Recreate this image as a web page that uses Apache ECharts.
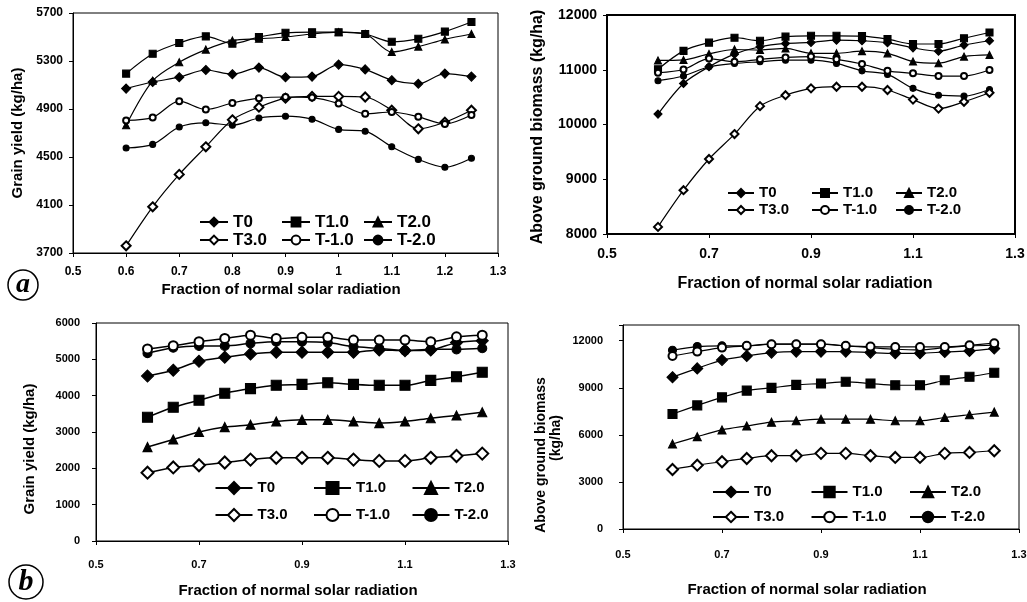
<!DOCTYPE html>
<html><head><meta charset="utf-8">
<script src="https://cdn.jsdelivr.net/npm/echarts@6/dist/echarts.min.js"></script>
<style>html,body{margin:0;padding:0;background:#fff}#c{width:1027px;height:602px}</style>
</head><body><div id="c"></div>
<script>
// ---- data ----
const xValues = [0.6,0.65,0.7,0.75,0.8,0.85,0.9,0.95,1.0,1.05,1.1,1.15,1.2,1.25];
const seriesNames = ['T0','T1.0','T2.0','T3.0','T-1.0','T-2.0'];

// (a) grain yield
const aGrainT0  = [5070,5125,5165,5225,5190,5245,5165,5170,5270,5230,5140,5110,5195,5170];
const aGrainT1  = [5195,5360,5450,5505,5445,5500,5535,5540,5540,5525,5460,5485,5545,5625];
const aGrainT2  = [4765,5135,5290,5395,5470,5485,5500,5525,5540,5525,5375,5420,5480,5525];
const aGrainT3  = [3760,4085,4355,4585,4810,4915,4990,5005,5005,5000,4890,4735,4790,4890];
const aGrainTm1 = [4805,4830,4965,4895,4950,4990,5000,4995,4945,4860,4875,4835,4775,4850];
const aGrainTm2 = [4575,4605,4750,4785,4765,4825,4840,4815,4730,4715,4585,4480,4415,4490];
// (a) above ground biomass
const aBioT0  = [10190,10750,11055,11285,11420,11480,11500,11540,11530,11495,11400,11340,11450,11530];
const aBioT1  = [11010,11345,11495,11585,11530,11605,11620,11620,11615,11560,11470,11470,11575,11680];
const aBioT2  = [11170,11180,11290,11370,11360,11390,11300,11300,11340,11300,11150,11120,11240,11270];
const aBioT3  = [8130,8800,9370,9825,10335,10535,10660,10690,10690,10630,10455,10290,10415,10580];
const aBioTm1 = [10945,11005,11205,11145,11190,11225,11240,11190,11105,10980,10935,10885,10885,10995];
const aBioTm2 = [10800,10885,11055,11115,11145,11175,11175,11115,10980,10915,10660,10535,10520,10640];
// (b) grain yield
const bGrainT0  = [4540,4700,4945,5060,5150,5195,5195,5195,5195,5260,5240,5260,5460,5510];
const bGrainT1  = [3405,3680,3875,4065,4195,4285,4310,4355,4310,4285,4285,4420,4520,4645];
const bGrainT2  = [2585,2795,3000,3135,3200,3290,3335,3335,3290,3245,3290,3380,3455,3545];
const bGrainT3  = [1880,2025,2085,2160,2240,2290,2290,2290,2240,2205,2205,2290,2340,2405];
const bGrainTm1 = [5285,5375,5485,5575,5665,5575,5605,5605,5530,5530,5530,5485,5620,5665];
const bGrainTm2 = [5170,5320,5370,5370,5440,5485,5485,5460,5350,5305,5240,5275,5275,5305];
// (b) above ground biomass
const bBioT0  = [9675,10235,10765,11025,11240,11305,11305,11305,11240,11195,11195,11285,11350,11500];
const bBioT1  = [7325,7875,8390,8820,8995,9185,9270,9380,9270,9160,9160,9480,9700,9955];
const bBioT2  = [5415,5885,6315,6570,6810,6895,7000,7000,7000,6895,6895,7105,7280,7450];
const bBioT3  = [3790,4065,4285,4495,4670,4670,4820,4820,4670,4560,4560,4820,4880,4985];
const bBioTm1 = [11025,11305,11560,11670,11775,11775,11775,11670,11625,11600,11600,11600,11710,11840];
const bBioTm2 = [11390,11625,11670,11670,11775,11775,11775,11670,11560,11455,11410,11560,11670,11710];

// ---- layout / style ----
const FONT = '"Liberation Sans", Arial, sans-serif';
const symbols = ['diamond','rect','triangle','emptyDiamond','emptyCircle','circle'];
const panels = [
  { key:'a1', vals:[aGrainT0,aGrainT1,aGrainT2,aGrainT3,aGrainTm1,aGrainTm2],
    grid:{left:73,top:13,width:425,height:240}, y:[3700,5700,400], xInt:0.1, border:1, axisW:1,
    labelSize:12, yMargin:10, xMargin:13, sym:[9,7,7,9,6,6], lw:1.2,
    leg:{x0:213,pitch:82,rows:[222,240],iw:28,ih:11,fs:17} },
  { key:'a2', vals:[aBioT0,aBioT1,aBioT2,aBioT3,aBioTm1,aBioTm2],
    grid:{left:607,top:15,width:408,height:219}, y:[8000,12000,1000], xInt:0.2, border:2, axisW:2,
    labelSize:14, yMargin:10, xMargin:13, sym:[8,7,7,8,6,6], lw:1.2,
    leg:{x0:740,pitch:84,rows:[193,210],iw:26,ih:10,fs:15} },
  { key:'b1', vals:[bGrainT0,bGrainT1,bGrainT2,bGrainT3,bGrainTm1,bGrainTm2],
    grid:{left:96,top:323,width:412,height:218}, y:[0,6000,1000], xInt:0.2, border:1, axisW:1,
    labelSize:11, yMargin:16, xMargin:18, sym:[12,10,9,12,9,9], lw:1.5,
    leg:{x0:233,pitch:98.5,rows:[488,515],iw:37,ih:15,fs:15} },
  { key:'b2', vals:[bBioT0,bBioT1,bBioT2,bBioT3,bBioTm1,bBioTm2],
    grid:{left:623,top:325,width:396,height:204}, y:[0,13000,3000], xInt:0.2, border:1, axisW:1,
    labelSize:11, yMargin:20, xMargin:20, sym:[11,9,8,11,8,8], lw:1.2,
    leg:{x0:730,pitch:98.5,rows:[492,517],iw:36,ih:13,fs:15} }
];

const grids = [], xAxes = [], yAxes = [], series = [], legends = [];
panels.forEach((p, pi) => {
  grids.push(Object.assign({show:true, borderColor:'#000', borderWidth:p.border, backgroundColor:'transparent', containLabel:false, outerBoundsMode:'none'}, p.grid));
  const lab = {color:'#000', fontFamily:FONT, fontWeight:'bold', fontSize:p.labelSize};
  xAxes.push({type:'value', gridIndex:pi, min:0.5, max:1.3, interval:p.xInt,
    axisLine:{show:true, lineStyle:{color:'#000', width:p.axisW}},
    axisTick:{show:true, length:4, lineStyle:{color:'#000'}},
    splitLine:{show:false},
    axisLabel:Object.assign({margin:p.xMargin, formatter:v => String(+v.toFixed(2))}, lab)});
  yAxes.push({type:'value', gridIndex:pi, min:p.y[0], max:p.y[1], interval:p.y[2],
    axisLine:{show:true, lineStyle:{color:'#000', width:p.axisW}},
    axisTick:{show:true, length:4, lineStyle:{color:'#000'}},
    splitLine:{show:false},
    axisLabel:Object.assign({margin:p.yMargin, formatter:v => (p.key==='b2' && v > 12000) ? '' : String(v)}, lab)});
  p.vals.forEach((vals, i) => {
    series.push({type:'line', name:p.key+'|'+seriesNames[i], xAxisIndex:pi, yAxisIndex:pi,
      data: xValues.map((x, j) => [x, vals[j]]),
      symbol:symbols[i], symbolSize:p.sym[i], smooth:0.3, showSymbol:true,
      lineStyle:{color:'#000', width:p.lw},
      itemStyle:{color:'#000', borderColor:'#000', borderWidth:1.1},
      emphasis:{disabled:true}, silent:true, animation:false, z:2+(i===3||i===4?1:0)});
  });
  const L = p.leg;
  const H = Math.max(L.ih, L.fs + 2);
  for (let r = 0; r < 2; r++) for (let c = 0; c < 3; c++) {
    const idx = r*3 + c;
    legends.push({show:true, orient:'horizontal', padding:0, itemGap:0,
      left: L.x0 + c*L.pitch - L.iw/2, top: rowTop(L.rows[r], H),
      itemWidth:L.iw, itemHeight:L.ih, selectedMode:false,
      data:[p.key+'|'+seriesNames[idx]],
      formatter: n => n.split('|')[1],
      textStyle:{color:'#000', fontFamily:FONT, fontWeight:'bold', fontSize:L.fs, lineHeight:L.fs+2}});
  }
});
function rowTop(center, H){ return center - H/2; }

function txt(x, y, text, size, rot, extra){
  return Object.assign({type:'text', x:x, y:y, rotation:rot||0, silent:true,
    style:{text:text, fontFamily:FONT, fontWeight:'bold', fontSize:size, fill:'#000',
      align:'center', verticalAlign:'middle', textAlign:'center', textVerticalAlign:'middle'}}, extra||{});
}
const R = Math.PI/2;
const graphics = [
  txt(18, 133, 'Grain yield (kg/ha)', 15, R),
  txt(281, 290, 'Fraction of normal solar radiation', 15, 0),
  txt(538, 127, 'Above ground biomass (kg/ha)', 16, R),
  txt(805, 284, 'Fraction of normal solar radiation', 16, 0),
  txt(30, 449, 'Grain yield (kg/ha)', 15, R),
  txt(298, 591, 'Fraction of normal solar radiation', 15, 0),
  txt(541, 455, 'Above ground biomass', 14, R),
  txt(556, 438, '(kg/ha)', 14, R),
  txt(807, 590, 'Fraction of normal solar radiation', 15, 0),
  {type:'circle', shape:{cx:23, cy:285, r:15}, style:{fill:'#fff', stroke:'#000', lineWidth:1.5}, silent:true},
  {type:'text', x:23, y:285, silent:true, style:{text:'a', fontFamily:'"Liberation Serif", "DejaVu Serif", serif', fontStyle:'italic', fontWeight:'bold', fontSize:28, fill:'#000', align:'center', verticalAlign:'middle', textAlign:'center', textVerticalAlign:'middle'}},
  {type:'circle', shape:{cx:26, cy:582, r:17}, style:{fill:'#fff', stroke:'#000', lineWidth:1.5}, silent:true},
  {type:'text', x:26, y:582, silent:true, style:{text:'b', fontFamily:'"Liberation Serif", "DejaVu Serif", serif', fontStyle:'italic', fontWeight:'bold', fontSize:30, fill:'#000', align:'center', verticalAlign:'middle', textAlign:'center', textVerticalAlign:'middle'}}
];

const chart = echarts.init(document.getElementById('c'), null, {renderer:'canvas'});
chart.setOption({
  backgroundColor:'#fff', animation:false,
  grid:grids, xAxis:xAxes, yAxis:yAxes, series:series, legend:legends, graphic:graphics
});
</script></body></html>
